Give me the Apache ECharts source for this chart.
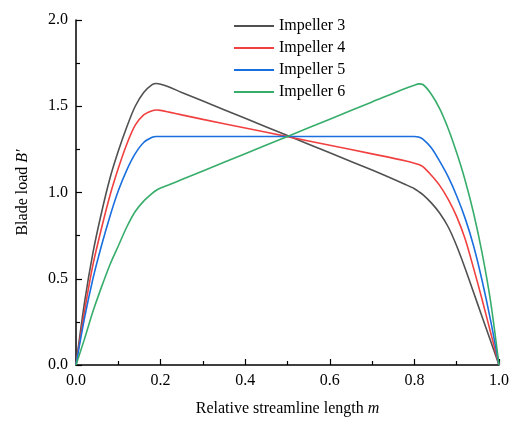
<!DOCTYPE html>
<html>
<head>
<meta charset="utf-8">
<script src="https://cdn.jsdelivr.net/npm/echarts@6/dist/echarts.min.js"></script>
<style>
  html, body { margin: 0; padding: 0; background: #fff; }
  #chart { width: 512px; height: 422px; }
</style>
</head>
<body>
<div id="chart"></div>
<script>
// relative streamline length m
const mValues = [0, 0.02, 0.04, 0.06, 0.08, 0.10, 0.12, 0.14, 0.16, 0.18, 0.19, 0.20, 0.22, 0.25, 0.3, 0.4,
  0.5, 0.6, 0.7, 0.78, 0.80, 0.81, 0.82, 0.84, 0.86, 0.88, 0.90, 0.92, 0.94, 0.96, 0.98, 1.0];
// blade load B' for each impeller
const impeller3 = [0, 0.36, 0.65, 0.88, 1.08, 1.24, 1.38, 1.50, 1.58, 1.625, 1.632, 1.628, 1.612, 1.58, 1.53, 1.43,
  1.33, 1.23, 1.13, 1.045, 1.022, 1.005, 0.988, 0.94, 0.88, 0.80, 0.69, 0.56, 0.42, 0.28, 0.14, 0];
const impeller4 = [0, 0.31, 0.58, 0.79, 0.98, 1.14, 1.28, 1.39, 1.45, 1.474, 1.478, 1.476, 1.466, 1.45, 1.424, 1.374,
  1.324, 1.274, 1.224, 1.183, 1.17, 1.162, 1.15, 1.10, 1.04, 0.96, 0.86, 0.73, 0.56, 0.38, 0.19, 0];
const impeller5 = [0, 0.27, 0.50, 0.69, 0.86, 1.01, 1.13, 1.225, 1.29, 1.32, 1.325, 1.325, 1.325, 1.325, 1.325, 1.325,
  1.325, 1.325, 1.325, 1.325, 1.325, 1.322, 1.31, 1.26, 1.18, 1.09, 0.98, 0.85, 0.69, 0.49, 0.26, 0];
const impeller6 = [0, 0.15, 0.31, 0.45, 0.58, 0.69, 0.80, 0.89, 0.95, 0.995, 1.013, 1.026, 1.045, 1.075, 1.125, 1.225,
  1.325, 1.425, 1.525, 1.605, 1.622, 1.630, 1.626, 1.57, 1.485, 1.37, 1.23, 1.07, 0.88, 0.65, 0.37, 0];

const seriesNames = ['Impeller 3', 'Impeller 4', 'Impeller 5', 'Impeller 6'];
const seriesValues = [impeller3, impeller4, impeller5, impeller6];
const colors = ['#515151', '#F14040', '#1A6FDF', '#37AD6B'];

const font = 'Liberation Serif';

const chart = echarts.init(document.getElementById('chart'));

const axisCommon = {
  type: 'value',
  nameLocation: 'middle',
  axisLine: { show: true, lineStyle: { color: '#000', width: 1.5 } },
  axisTick: { show: true, inside: true, length: 6, lineStyle: { color: '#000', width: 1.2 } },
  minorTick: { show: true, splitNumber: 2, length: 4, lineStyle: { color: '#000', width: 1.2 } },
  splitLine: { show: false },
  axisLabel: {
    color: '#000', fontFamily: font, fontSize: 16,
    formatter: v => v.toFixed(1)
  }
};

chart.setOption({
  animation: false,
  color: colors,
  grid: { left: 76, right: 6, top: 20, bottom: 55 },
  legend: {
    orient: 'vertical',
    left: 234,
    top: 18,
    padding: 0,
    icon: 'rect',
    itemWidth: 40,
    itemHeight: 2,
    itemGap: 6,
    textStyle: { fontFamily: font, fontSize: 16, color: '#000', lineHeight: 16 },
    data: seriesNames
  },
  xAxis: Object.assign({}, axisCommon, {
    min: 0, max: 1, interval: 0.2,
    name: '{a|Relative streamline length }{b|m}',
    nameGap: 36,
    nameTextStyle: {
      rich: {
        a: { fontFamily: font, fontSize: 16, color: '#000' },
        b: { fontFamily: font, fontSize: 16, color: '#000', fontStyle: 'italic' }
      }
    },
    axisLabel: Object.assign({}, axisCommon.axisLabel, { margin: 8 })
  }),
  yAxis: Object.assign({}, axisCommon, {
    min: 0, max: 2, interval: 0.5,
    name: '{a|Blade load }{b|B′}',
    nameGap: 45,
    nameTextStyle: {
      rich: {
        a: { fontFamily: font, fontSize: 16, color: '#000' },
        b: { fontFamily: font, fontSize: 16, color: '#000', fontStyle: 'italic' }
      }
    },
    axisLabel: Object.assign({}, axisCommon.axisLabel, { margin: 8 })
  }),
  series: seriesNames.map((name, i) => ({
    name: name,
    type: 'line',
    data: mValues.map((m, j) => [m, seriesValues[i][j]]),
    showSymbol: false,
    smooth: 0.3,
    lineStyle: { width: 1.6, color: colors[i] },
    itemStyle: { color: colors[i] }
  }))
});
</script>
</body>
</html>
